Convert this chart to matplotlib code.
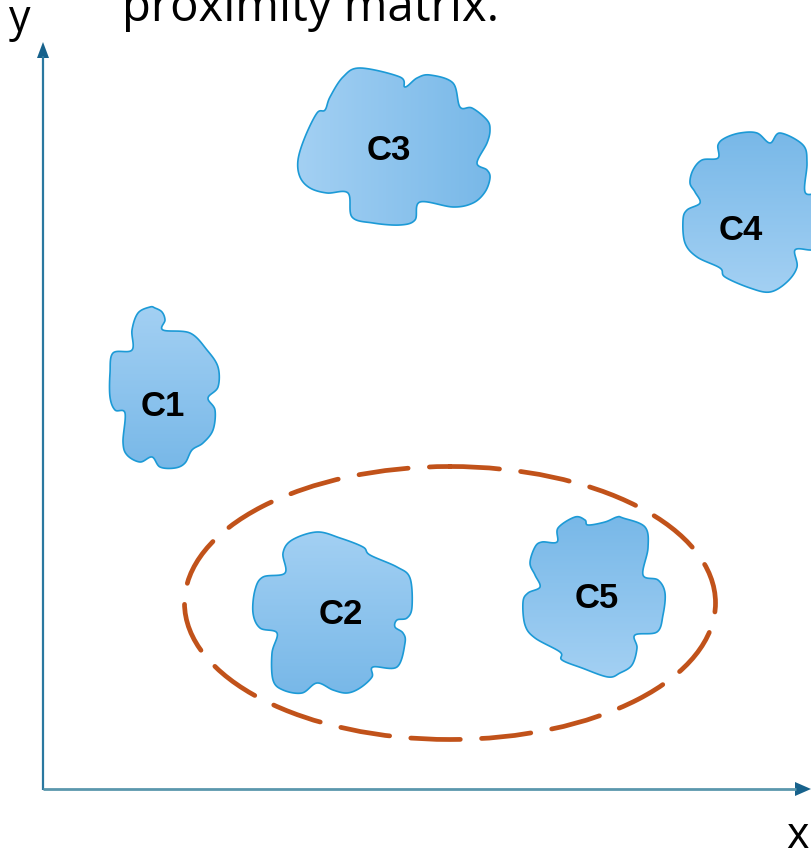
import numpy as np
import matplotlib
matplotlib.use("Agg")
import matplotlib.pyplot as plt
from matplotlib.patches import Polygon, Ellipse
from matplotlib.colors import LinearSegmentedColormap

# cluster outlines (pixel coords of the picture, y down)
c1_outline = [(150, 307), (155, 308), (162, 312), (165, 320), (163, 330), (190, 333),
              (207, 350), (218, 367), (218, 387), (208, 398), (215, 410), (213, 430),
              (203, 443), (192, 450), (185, 463), (175, 468), (160, 467), (152, 457),
              (140, 462), (127, 455), (123, 442), (125, 413), (115, 410), (110, 397),
              (110, 373), (113, 353), (132, 350), (132, 330), (138, 313)]
c2_outline = [(317, 532), (340, 538), (363, 547), (370, 555), (397, 567), (410, 578),
              (412, 607), (407, 618), (397, 620), (395, 627), (403, 633), (405, 643),
              (397, 667), (373, 667), (372, 677), (360, 688), (347, 693), (333, 690),
              (317, 683), (302, 693), (283, 690), (273, 680), (272, 653), (277, 633),
              (260, 628), (253, 613), (255, 590), (263, 577), (285, 573), (283, 553),
              (292, 540)]
c3_outline = [(360, 68), (400, 77), (405, 87), (417, 78), (430, 75), (453, 83),
              (460, 107), (472, 108), (487, 120), (490, 130), (487, 143), (477, 163),
              (487, 170), (490, 178), (485, 192), (473, 203), (453, 207), (420, 202),
              (415, 220), (400, 225), (373, 223), (352, 217), (348, 193), (327, 193),
              (310, 188), (300, 177), (298, 160), (305, 137), (317, 113), (325, 110),
              (330, 97), (343, 77)]
c4_outline = [(740, 133), (757, 133), (770, 143), (780, 133), (803, 145), (807, 163),
              (805, 192), (818, 195), (828, 210), (830, 235), (822, 250), (810, 250),
              (795, 250), (797, 267), (787, 282), (770, 292), (750, 288), (725, 277),
              (720, 268), (697, 257), (685, 243), (683, 220), (687, 210), (700, 203),
              (695, 192), (690, 183), (693, 170), (702, 160), (718, 158), (718, 145),
              (725, 138)]
c5_outline = [(575, 517), (585, 520), (588, 525), (605, 522), (617, 517), (623, 518),
              (645, 527), (648, 548), (643, 575), (658, 580), (665, 593), (663, 615),
              (657, 632), (635, 635), (637, 648), (632, 665), (620, 673), (608, 677),
              (582, 668), (562, 660), (560, 652), (535, 638), (525, 625), (523, 602),
              (528, 593), (540, 587), (535, 575), (530, 563), (535, 547), (542, 542),
              (557, 542), (558, 528)]

cluster_names = ["C1", "C2", "C3", "C4", "C5"]
cluster_outlines = [c1_outline, c2_outline, c3_outline, c4_outline, c5_outline]
label_pos = [(163, 404), (341, 612), (389, 148), (741, 228), (597, 596)]
shade_dir = ["down", "down", "right", "up", "up"]

# merged group (C2 + C5)
group_center = (450, 603)
group_size = (531, 273)

y_axis = [(43, 790), (43, 56)]
x_axis = [(43, 789), (796, 789)]
y_head = [(43, 42), (37, 58), (49, 58)]
x_head = [(811, 789), (795, 782), (795, 796)]

light = "#a3d0f3"
dark = "#78b8e8"
cmap = LinearSegmentedColormap.from_list("blob", [light, dark])


def smooth_closed(pts, n=12):
    # closed catmull-rom through the outline points
    p = np.asarray(pts, dtype=float)
    m = len(p)
    out = []
    t = np.linspace(0, 1, n, endpoint=False)[:, None]
    for i in range(m):
        p0, p1, p2, p3 = p[i - 1], p[i], p[(i + 1) % m], p[(i + 2) % m]
        seg = 0.5 * ((2 * p1) + (-p0 + p2) * t + (2 * p0 - 5 * p1 + 4 * p2 - p3) * t ** 2
                     + (-p0 + 3 * p1 - 3 * p2 + p3) * t ** 3)
        out.append(seg)
    return np.vstack(out)


fig = plt.figure(figsize=(8.11, 8.52), dpi=100)
ax = fig.add_axes([0, 0, 1, 1])
ax.set_xlim(0, 811)
ax.set_ylim(852, 0)
ax.axis("off")

for name, pts, pos, d in zip(cluster_names, cluster_outlines, label_pos, shade_dir):
    pts = smooth_closed(pts)
    x0, x1 = pts[:, 0].min(), pts[:, 0].max()
    y0, y1 = pts[:, 1].min(), pts[:, 1].max()
    g = np.linspace(0, 1, 256)
    if d == "right":
        grad = np.tile(g, (2, 1))
    elif d == "down":
        grad = np.tile(g[:, None], (1, 2))
    else:
        grad = np.tile(g[::-1, None], (1, 2))
    poly = Polygon(pts, closed=True, facecolor="none", edgecolor="#1c9ad6",
                   linewidth=1.2, zorder=3)
    ax.add_patch(poly)
    im = ax.imshow(grad, cmap=cmap, extent=(x0, x1, y1, y0), origin="upper",
                   aspect="auto", interpolation="bilinear", zorder=2)
    im.set_clip_path(poly)
    ax.text(pos[0], pos[1] + 12, name, fontsize=25, fontweight="bold",
            family="Liberation Sans", ha="center", va="baseline", zorder=4)

ax.add_patch(Ellipse(group_center, group_size[0], group_size[1], fill=False,
                     edgecolor="#c1521a", linewidth=3.4, linestyle=(0, (10.5, 4.5)),
                     capstyle="round", zorder=5))

ax.plot(*zip(*y_axis), color="#2a78a0", linewidth=1.6, solid_capstyle="butt")
ax.plot(*zip(*x_axis), color="#5b97ad", linewidth=2.0, solid_capstyle="butt")
ax.add_patch(Polygon(y_head, closed=True, color="#17628c", linewidth=0))
ax.add_patch(Polygon(x_head, closed=True, color="#17628c", linewidth=0))

ax.text(122, 21, "proximity matrix.", fontsize=34, family="Open Sans",
        va="baseline", ha="left")
ax.text(9, 31, "y", fontsize=31, family="Open Sans", va="baseline", ha="left")
ax.text(786, 848, "x", fontsize=31, family="Open Sans", va="baseline", ha="left")

fig.savefig("out.png", dpi=100)
